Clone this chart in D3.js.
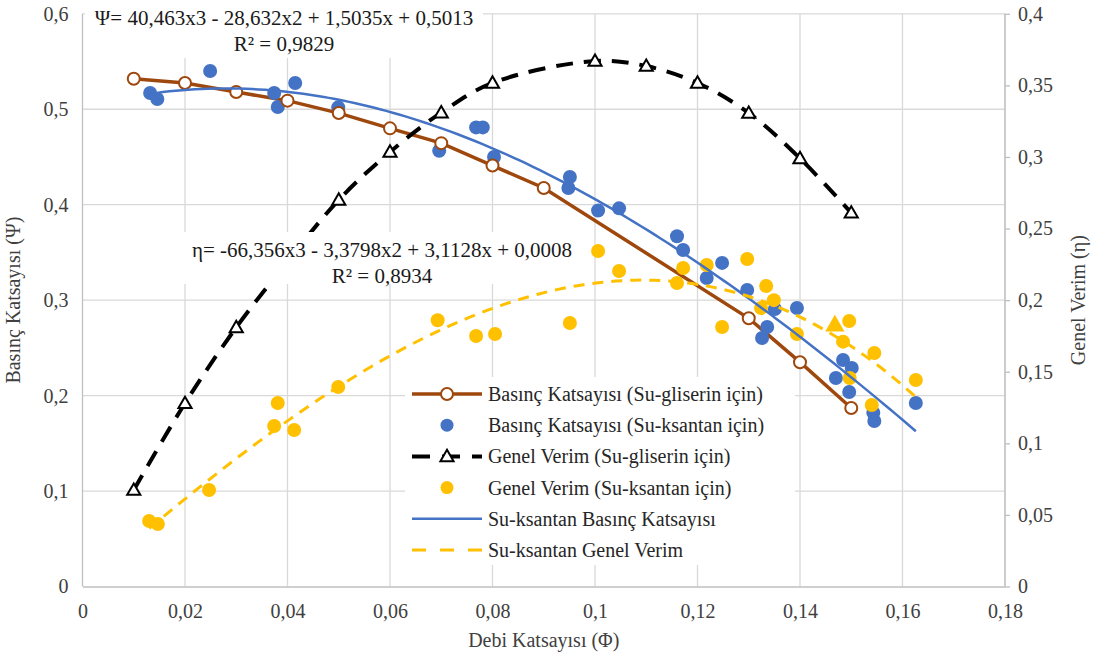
<!DOCTYPE html>
<html>
<head>
<meta charset="utf-8">
<script src="https://cdn.jsdelivr.net/npm/d3@7"></script>
<style>
  body { margin: 0; background: #fff; }
  svg { font-family: "Liberation Serif", "Times New Roman", serif; }
</style>
</head>
<body>
<div id="container"></div>
<script>
// Basınç Katsayısı (Su-gliserin için)
const phiGliserinPsi = [0.01, 0.02, 0.03, 0.04, 0.05, 0.06, 0.07, 0.08, 0.09, 0.13, 0.14, 0.15];
const psiGliserin = [0.532, 0.5275, 0.518, 0.509, 0.496, 0.48, 0.4645, 0.441, 0.4175, 0.281, 0.235, 0.187];

// Genel Verim (Su-gliserin için)
const phiGliserinEta = [0.01, 0.02, 0.03, 0.04, 0.05, 0.06, 0.07, 0.08, 0.10, 0.11, 0.12, 0.13, 0.14, 0.15];
const etaGliserin = [0.0674, 0.128, 0.181, 0.227, 0.27, 0.3035, 0.331, 0.3517, 0.367, 0.3635, 0.3517, 0.3307, 0.299, 0.261];

// Basınç Katsayısı (Su-ksantan için)
const phiKsantanPsi = [0.0132, 0.0146, 0.0249, 0.0374, 0.0381, 0.0415, 0.0499, 0.0696, 0.0768, 0.0781, 0.0803,
  0.0951, 0.0948, 0.1006, 0.1047, 0.116, 0.1172, 0.1248, 0.1218, 0.1297, 0.1351, 0.1394, 0.1336, 0.1326,
  0.1484, 0.1501, 0.147, 0.1496, 0.1543, 0.1545, 0.1626];
const psiKsantan = [0.517, 0.5107, 0.54, 0.517, 0.5024, 0.5275, 0.502, 0.4565, 0.481, 0.481, 0.45,
  0.429, 0.4175, 0.394, 0.3962, 0.367, 0.3526, 0.339, 0.3232, 0.3106, 0.2907, 0.2918, 0.2719, 0.2604,
  0.2373, 0.229, 0.2184, 0.2038, 0.182, 0.1734, 0.1922];

// Genel Verim (Su-ksantan için)
const phiKsantanEta = [0.013, 0.0147, 0.0247, 0.0374, 0.0381, 0.0413, 0.0499, 0.0693, 0.0768, 0.0805, 0.0951,
  0.1006, 0.1047, 0.116, 0.1172, 0.1218, 0.1248, 0.1297, 0.1334, 0.1349, 0.1324, 0.1394, 0.1496, 0.1484,
  0.1545, 0.1497, 0.1626, 0.154];
const etaKsantan = [0.0457, 0.0437, 0.0674, 0.1121, 0.1282, 0.1093, 0.1393, 0.186, 0.175, 0.1764, 0.184,
  0.2343, 0.2204, 0.212, 0.2225, 0.2245, 0.1812, 0.2287, 0.2099, 0.2, 0.1945, 0.1764, 0.1854, 0.171,
  0.1631, 0.1456, 0.1442, 0.1268];
// one point of that series is drawn as a triangle
const phiKsantanEtaTri = [0.1468];
const etaKsantanTri = [0.182];

// trendlines (polynomial, order 3) as given on the chart
const psiTrendCoef = [40.463, -28.632, 1.5035, 0.5013];
const psiTrendR2 = 0.9829;
const etaTrendCoef = [-66.356, -3.3798, 3.1128, 0.0008];
const etaTrendR2 = 0.8934;

const xTicks = [0, 0.02, 0.04, 0.06, 0.08, 0.1, 0.12, 0.14, 0.16, 0.18];
const psiTicks = [0, 0.1, 0.2, 0.3, 0.4, 0.5, 0.6];
const etaTicks = [0, 0.05, 0.1, 0.15, 0.2, 0.25, 0.3, 0.35, 0.4];

const legendItems = [
  "Basınç Katsayısı (Su-gliserin için)",
  "Basınç Katsayısı (Su-ksantan için)",
  "Genel Verim (Su-gliserin için)",
  "Genel Verim (Su-ksantan için)",
  "Su-ksantan Basınç Katsayısı",
  "Su-ksantan Genel Verim"
];

const W = 1094, H = 661;
const plotL = 82.5, plotR = 1005, plotT = 13.8, plotB = 586.5;
const BROWN = "#9e480e", BLUE = "#4472c4", GOLD = "#ffc000", GRID = "#d9d9d9", AXIS = "#bfbfbf";
const FONT = '"Liberation Serif", "Times New Roman", serif';

const comma = v => String(v).replace(".", ",");

const x = d3.scaleLinear().domain([0, 0.18]).range([plotL, plotR]);
const yPsi = d3.scaleLinear().domain([0, 0.6]).range([plotB, plotT]);
const yEta = d3.scaleLinear().domain([0, 0.4]).range([plotB, plotT]);

const svg = d3.select("#container").append("svg")
  .attr("width", W)
  .attr("height", H);

// grid
svg.append("g").selectAll("line").data(xTicks.slice(1)).join("line")
  .attr("x1", d => x(d)).attr("x2", d => x(d))
  .attr("y1", plotT).attr("y2", plotB)
  .attr("stroke", GRID).attr("stroke-width", 1.3);
svg.append("g").selectAll("line").data(psiTicks.slice(1)).join("line")
  .attr("x1", plotL).attr("x2", plotR)
  .attr("y1", d => yPsi(d)).attr("y2", d => yPsi(d))
  .attr("stroke", GRID).attr("stroke-width", 1.3);

// axes
const xAxis = svg.append("g")
  .attr("transform", `translate(0,${plotB})`)
  .call(d3.axisBottom(x).tickValues(xTicks).tickSize(0).tickPadding(17).tickFormat(comma));
const leftAxis = svg.append("g")
  .attr("transform", `translate(${plotL},0)`)
  .call(d3.axisLeft(yPsi).tickValues(psiTicks).tickSize(0).tickPadding(14).tickFormat(comma));
const rightAxis = svg.append("g")
  .attr("transform", `translate(${plotR},0)`)
  .call(d3.axisRight(yEta).tickValues(etaTicks).tickSize(5).tickPadding(8).tickFormat(comma));
[xAxis, leftAxis, rightAxis].forEach(a => {
  a.attr("font-family", FONT);
  a.select(".domain").attr("stroke", AXIS).attr("stroke-width", 1.3);
  a.selectAll(".tick line").attr("stroke", AXIS).attr("stroke-width", 1.3);
  a.selectAll("text").attr("font-size", 20).attr("fill", "#404040");
});
leftAxis.select(".domain").attr("d", `M0,${plotT}V${plotB}`);
rightAxis.select(".domain").attr("d", `M0,${plotT}V${plotB}`);

// axis titles
svg.append("text")
  .attr("x", (plotL + plotR) / 2).attr("y", 647)
  .attr("text-anchor", "middle").attr("font-size", 20).attr("fill", "#404040")
  .text("Debi Katsayısı (Φ)");
svg.append("text")
  .attr("transform", `translate(20,${(plotT + plotB) / 2}) rotate(-90)`)
  .attr("text-anchor", "middle").attr("font-size", 20).attr("fill", "#404040")
  .text("Basınç Katsayısı (Ψ)");
svg.append("text")
  .attr("transform", `translate(1085,${(plotT + plotB) / 2}) rotate(-90)`)
  .attr("text-anchor", "middle").attr("font-size", 20).attr("fill", "#404040")
  .text("Genel Verim (η)");

const tri = d3.symbol().type(d3.symbolTriangle).size(75);

// Basınç Katsayısı (Su-gliserin)
const gliserinPsi = phiGliserinPsi.map((p, i) => [p, psiGliserin[i]]);
svg.append("path")
  .datum(gliserinPsi)
  .attr("fill", "none").attr("stroke", BROWN).attr("stroke-width", 3.5)
  .attr("d", d3.line().x(d => x(d[0])).y(d => yPsi(d[1])));

// Basınç Katsayısı (Su-ksantan) points
svg.append("g").selectAll("circle")
  .data(phiKsantanPsi.map((p, i) => [p, psiKsantan[i]]))
  .join("circle")
  .attr("cx", d => x(d[0])).attr("cy", d => yPsi(d[1])).attr("r", 7)
  .attr("fill", BLUE);

svg.append("g").selectAll("circle")
  .data(gliserinPsi).join("circle")
  .attr("cx", d => x(d[0])).attr("cy", d => yPsi(d[1])).attr("r", 6)
  .attr("fill", "white").attr("stroke", BROWN).attr("stroke-width", 2);

// Genel Verim (Su-gliserin)
const gliserinEta = phiGliserinEta.map((p, i) => [p, etaGliserin[i]]);
svg.append("path")
  .datum(gliserinEta)
  .attr("fill", "none").attr("stroke", "black").attr("stroke-width", 4)
  .attr("stroke-dasharray", "17,11")
  .attr("d", d3.line().curve(d3.curveCatmullRom).x(d => x(d[0])).y(d => yEta(d[1])));
svg.append("g").selectAll("path")
  .data(gliserinEta).join("path")
  .attr("transform", d => `translate(${x(d[0])},${yEta(d[1]) + 1})`)
  .attr("d", tri)
  .attr("fill", "white").attr("stroke", "black").attr("stroke-width", 2);

// Genel Verim (Su-ksantan) points
svg.append("g").selectAll("circle")
  .data(phiKsantanEta.map((p, i) => [p, etaKsantan[i]]))
  .join("circle")
  .attr("cx", d => x(d[0])).attr("cy", d => yEta(d[1])).attr("r", 7)
  .attr("fill", GOLD);
svg.append("g").selectAll("path")
  .data(phiKsantanEtaTri.map((p, i) => [p, etaKsantanTri[i]]))
  .join("path")
  .attr("transform", d => `translate(${x(d[0])},${yEta(d[1])})`)
  .attr("d", d3.symbol().type(d3.symbolTriangle).size(160))
  .attr("fill", GOLD);

// trendlines
const poly = c => v => ((c[0] * v + c[1]) * v + c[2]) * v + c[3];
const psiFit = poly(psiTrendCoef), etaFit = poly(etaTrendCoef);
const [psiMin, psiMax] = d3.extent(phiKsantanPsi);
const [etaMin, etaMax] = d3.extent(phiKsantanEta);
const steps = 120;
const psiCurve = d3.range(steps + 1).map(i => psiMin + (psiMax - psiMin) * i / steps);
const etaCurve = d3.range(steps + 1).map(i => etaMin + (etaMax - etaMin) * i / steps);

svg.append("path")
  .datum(psiCurve)
  .attr("fill", "none").attr("stroke", BLUE).attr("stroke-width", 2.5)
  .attr("d", d3.line().x(d => x(d)).y(d => yPsi(psiFit(d))));
svg.append("path")
  .datum(etaCurve)
  .attr("fill", "none").attr("stroke", GOLD).attr("stroke-width", 3)
  .attr("stroke-dasharray", "11,8")
  .attr("d", d3.line().x(d => x(d)).y(d => yEta(etaFit(d))));

// trendline labels
function eqText(sym, c) {
  const s = v => (v < 0 ? "- " : "+ ") + comma(Math.abs(v));
  return `${sym}= ${comma(c[0])}x3 ${s(c[1])}x2 ${s(c[2])}x ${s(c[3])}`;
}
function eqLabel(cx, y0, sym, c, r2, box) {
  svg.append("rect")
    .attr("x", box[0]).attr("y", box[1]).attr("width", box[2]).attr("height", box[3])
    .attr("fill", "white");
  const t = svg.append("text").attr("text-anchor", "middle").attr("font-size", 21).attr("fill", "#1a1a1a");
  t.append("tspan").attr("x", cx).attr("y", y0).text(eqText(sym, c));
  t.append("tspan").attr("x", cx).attr("y", y0 + 26).text("R² = " + comma(r2));
}
eqLabel(284, 25, "Ψ", psiTrendCoef, psiTrendR2, [85, 2, 398, 56]);
eqLabel(382, 257, "η", etaTrendCoef, etaTrendR2, [183, 232, 395, 52]);

// legend
const lg = svg.append("g");
lg.append("rect")
  .attr("x", 405).attr("y", 377).attr("width", 390).attr("height", 188)
  .attr("fill", "white");
const rows = lg.selectAll("g").data(legendItems).join("g")
  .attr("transform", (d, i) => `translate(0,${394 + i * 31.2})`);
rows.append("text")
  .attr("x", 488).attr("y", 0).attr("dy", "0.35em")
  .attr("font-size", 20).attr("fill", "#262626")
  .text(d => d);
rows.each(function (d, i) {
  const g = d3.select(this);
  if (i === 0) {
    g.append("line").attr("x1", 412).attr("x2", 482).attr("stroke", BROWN).attr("stroke-width", 3.5);
    g.append("circle").attr("cx", 447).attr("r", 6)
      .attr("fill", "white").attr("stroke", BROWN).attr("stroke-width", 2);
  } else if (i === 1) {
    g.append("circle").attr("cx", 447).attr("r", 6.5).attr("fill", BLUE);
  } else if (i === 2) {
    g.append("line").attr("x1", 412).attr("x2", 482).attr("stroke", "black").attr("stroke-width", 4)
      .attr("stroke-dasharray", "18,12");
    g.append("path").attr("transform", "translate(447,1)").attr("d", tri)
      .attr("fill", "white").attr("stroke", "black").attr("stroke-width", 2);
  } else if (i === 3) {
    g.append("circle").attr("cx", 447).attr("r", 6.5).attr("fill", GOLD);
  } else if (i === 4) {
    g.append("line").attr("x1", 412).attr("x2", 482).attr("stroke", BLUE).attr("stroke-width", 2.5);
  } else {
    g.append("line").attr("x1", 412).attr("x2", 482).attr("stroke", GOLD).attr("stroke-width", 3)
      .attr("stroke-dasharray", "14,14");
  }
});
</script>
</body>
</html>
